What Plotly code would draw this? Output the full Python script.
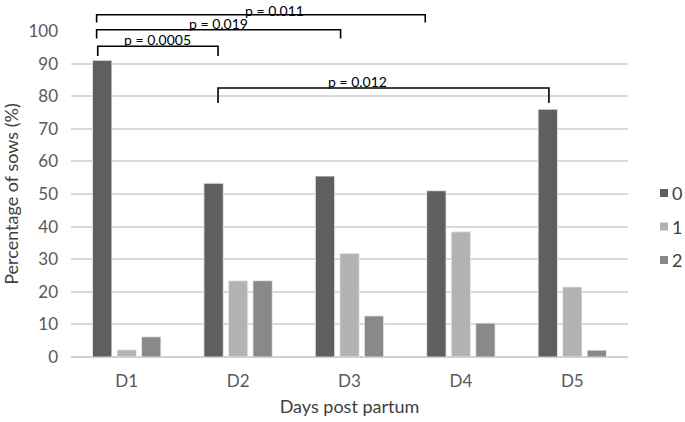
import plotly.graph_objects as go

categories = ["D1", "D2", "D3", "D4", "D5"]
series_names = ["0", "1", "2"]
values_0 = [91.0, 53.3, 55.5, 51.0, 76.0]
values_1 = [2.2, 23.4, 31.8, 38.4, 21.5]
values_2 = [6.2, 23.4, 12.6, 10.4, 2.1]
series_values = [values_0, values_1, values_2]
colors = ["#5f5f5f", "#b3b3b3", "#898989"]

# comparisons: (from category, to category, label)
comparisons = [
    ("D1", "D4", "p = 0.011"),
    ("D1", "D3", "p = 0.019"),
    ("D1", "D2", "p = 0.0005"),
    ("D2", "D5", "p = 0.012"),
]
# bracket geometry (layout only): left offset, right offset (category units),
# top (y units), drop length (y units), text shift (category units), text yshift (px)
bracket_geom = [
    (-0.27, -0.32, 105.0, 2.4, 0.12, -5),
    (-0.27, -0.08, 100.4, 2.7, 0.0, -3),
    (-0.26, -0.18, 95.3, 3.0, 0.0, -3),
    (-0.18, -0.21, 82.5, 4.6, -0.23, -3),
]

FONT = "Lato"
fig = go.Figure()
for name, vals, col in zip(series_names, series_values, colors):
    fig.add_trace(go.Bar(x=categories, y=vals, name=name,
                         marker=dict(color=col, line=dict(color="#f0f0f0", width=0.8)),
                         showlegend=False))

ncat = len(categories)
YMAX = 100.0
PLOT_W = 557.0
PLOT_H = 326.0

def px_(cat, off):
    return (categories.index(cat) + off + 0.5) / ncat

shapes = []
annotations = []
for (c0, c1, lab), (o0, o1, top, drop, tdx, tys) in zip(comparisons, bracket_geom):
    x0 = px_(c0, o0)
    x1 = px_(c1, o1)
    yt = top / YMAX
    yb = (top - drop) / YMAX
    shapes.append(dict(type="path", xref="paper", yref="paper",
                       path=f"M {x0},{yb} L {x0},{yt} L {x1},{yt} L {x1},{yb}",
                       line=dict(color="black", width=1.6)))
    annotations.append(dict(xref="paper", yref="paper", x=(x0 + x1) / 2 + tdx / ncat,
                            y=yt, yanchor="bottom", xanchor="center", yshift=tys,
                            text=lab, showarrow=False, borderpad=0,
                            font=dict(family=FONT, size=14, color="black")))

# custom legend (drawn beside the plot)
for i, (name, col) in enumerate(zip(series_names, colors)):
    yc_px = 193 + i * 33.5  # from top of figure
    yc = (357 - yc_px) / PLOT_H
    shapes.append(dict(type="rect", xref="paper", yref="paper",
                       x0=1.0 + 32 / PLOT_W, x1=1.0 + 40 / PLOT_W,
                       y0=yc - 4 / PLOT_H, y1=yc + 4 / PLOT_H,
                       fillcolor=col, line=dict(width=0)))
    annotations.append(dict(xref="paper", yref="paper", x=1.0 + 42 / PLOT_W,
                            y=yc, xanchor="left", yanchor="middle",
                            text=name, showarrow=False,
                            font=dict(family=FONT, size=18, color="#404040")))

fig.update_layout(
    width=685, height=422,
    margin=dict(l=71, r=57, t=31, b=65, autoexpand=False),
    plot_bgcolor="white", paper_bgcolor="white",
    barmode="group", bargap=0.34, bargroupgap=0.21,
    font=dict(family=FONT, color="#595959"),
    shapes=shapes, annotations=annotations,
    xaxis=dict(showgrid=False, showline=False, zeroline=False, automargin=False,
               tickfont=dict(size=17, color="#595959"), ticklabelstandoff=12,
               title=dict(text="Days post partum", font=dict(size=18, color="#404040"), standoff=10)),
    yaxis=dict(range=[0, YMAX], dtick=10, showgrid=True, gridcolor="#d9d9d9", gridwidth=1.5,
               zeroline=True, zerolinecolor="#d0d0d0", zerolinewidth=1.5, showline=False,
               automargin=False,
               tickfont=dict(size=17, color="#595959"), ticklabelstandoff=12,
               title=dict(text="Percentage of sows (%)", font=dict(size=18, color="#404040"), standoff=8)),
)

fig.write_html("out.html", config={"displayModeBar": False},
               post_script="document.body.style.margin='0';")
